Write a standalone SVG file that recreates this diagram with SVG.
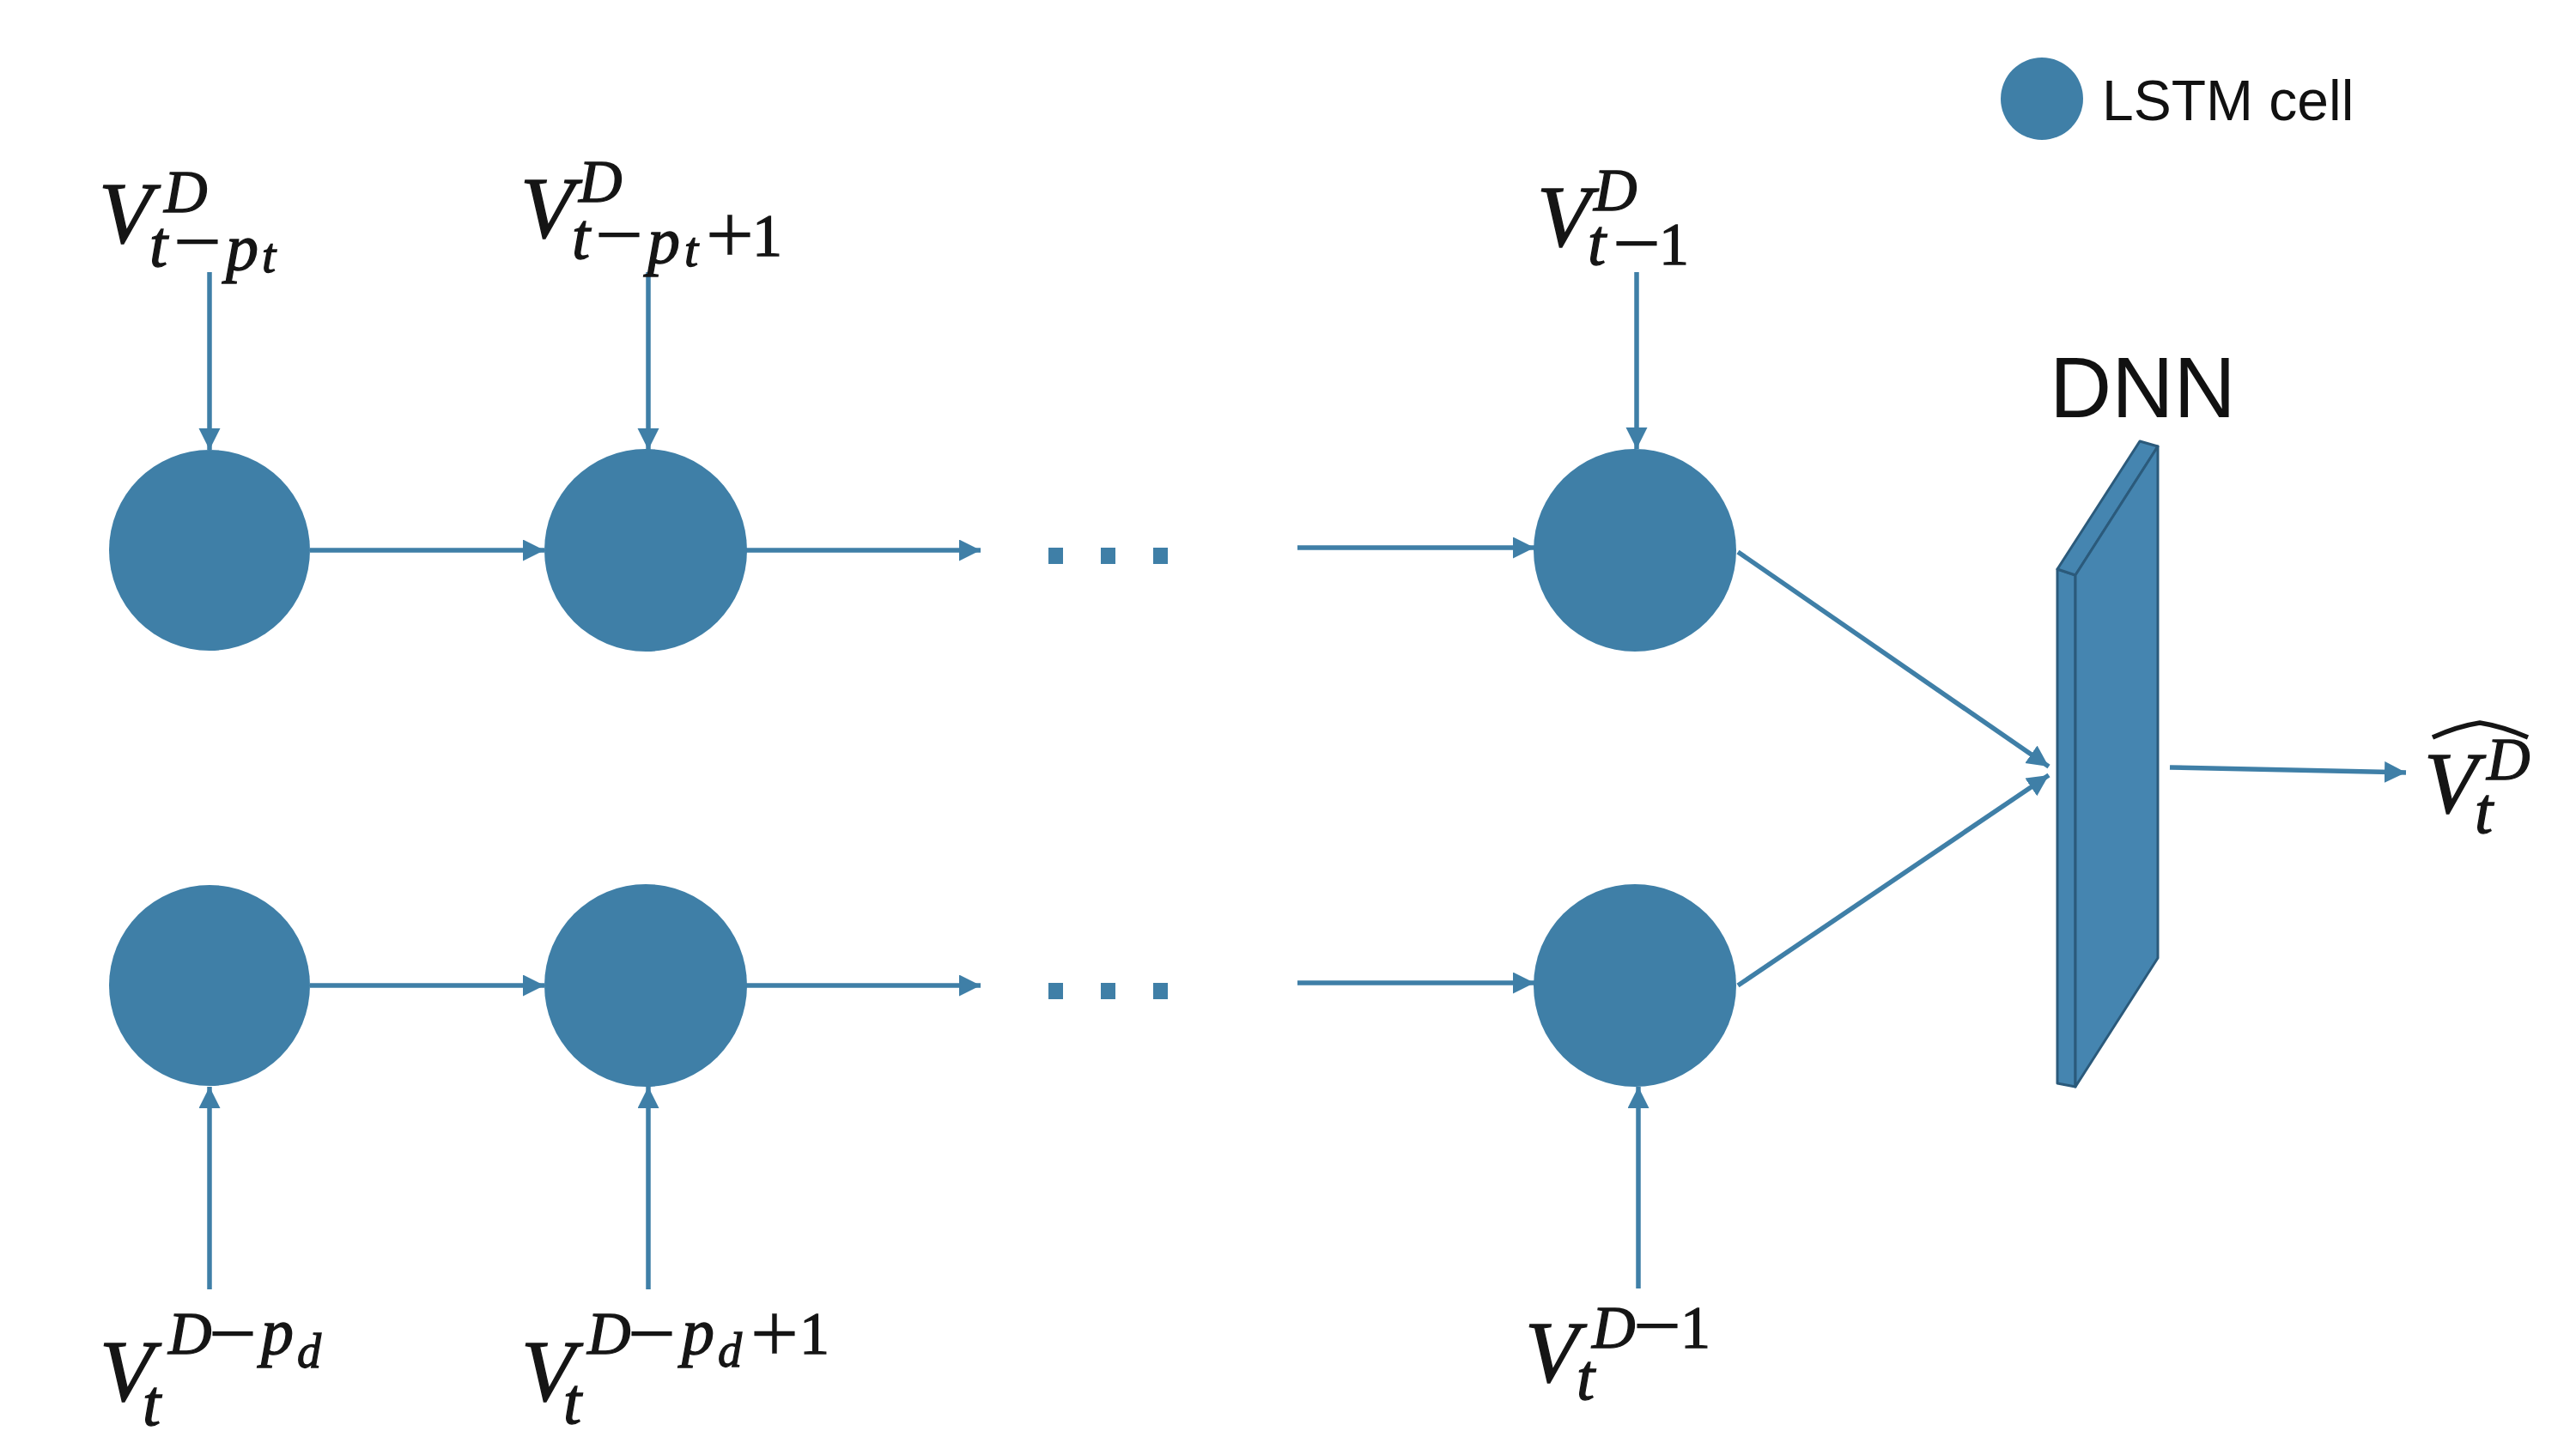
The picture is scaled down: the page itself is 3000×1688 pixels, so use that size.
<svg xmlns="http://www.w3.org/2000/svg" width="3000" height="1688" viewBox="0 0 3000 1688">
<style>
.cell{fill:#3f7fa7}
.con{stroke:#3f7fa7;stroke-width:5.5;fill:none}
.math{font-family:"Liberation Serif","Times New Roman",serif;fill:#151515;stroke:#151515;stroke-width:1.3}
.i{font-style:italic}
.op{text-anchor:middle;stroke-width:0.4}
.s{font-family:"Liberation Sans",Arial,sans-serif;fill:#111}
.dot{fill:#3f7fa7}
.slab{fill:#4585b0;stroke:#2b5a7b;stroke-width:3;stroke-linejoin:round}
</style>
<defs>
<marker id="ah" markerUnits="userSpaceOnUse" markerWidth="26" markerHeight="26" refX="25" refY="12.5" orient="auto">
<path d="M0,0 L25,12.5 L0,25 z" fill="#3f7fa7"/>
</marker>
</defs>
<rect width="3000" height="1688" fill="#ffffff"/>

<g id="legend">
<circle class="cell" cx="2378" cy="115" r="48"/>
<text class="s" x="2448" y="140" font-size="66">LSTM cell</text>
</g>

<g id="connectors">
<line class="con" x1="244" y1="317" x2="244" y2="524" marker-end="url(#ah)"/>
<line class="con" x1="755" y1="317" x2="755" y2="524" marker-end="url(#ah)"/>
<line class="con" x1="1906" y1="317" x2="1906" y2="523" marker-end="url(#ah)"/>
<line class="con" x1="244" y1="1502" x2="244" y2="1266" marker-end="url(#ah)"/>
<line class="con" x1="755" y1="1502" x2="755" y2="1266" marker-end="url(#ah)"/>
<line class="con" x1="1908" y1="1501" x2="1908" y2="1266" marker-end="url(#ah)"/>
<line class="con" x1="361" y1="641" x2="634" y2="641" marker-end="url(#ah)"/>
<line class="con" x1="869" y1="641" x2="1142" y2="641" marker-end="url(#ah)"/>
<line class="con" x1="1511" y1="638" x2="1787" y2="638" marker-end="url(#ah)"/>
<line class="con" x1="361" y1="1148" x2="634" y2="1148" marker-end="url(#ah)"/>
<line class="con" x1="869" y1="1148" x2="1142" y2="1148" marker-end="url(#ah)"/>
<line class="con" x1="1511" y1="1145" x2="1787" y2="1145" marker-end="url(#ah)"/>
<line class="con" x1="2024" y1="643" x2="2386" y2="893" marker-end="url(#ah)"/>
<line class="con" x1="2024" y1="1148" x2="2386" y2="903" marker-end="url(#ah)"/>
<line class="con" x1="2527" y1="894" x2="2802" y2="900" marker-end="url(#ah)"/>
</g>

<g id="dots-top">
<rect class="dot" x="1221" y="638" width="17" height="19"/>
<rect class="dot" x="1282" y="638" width="17" height="19"/>
<rect class="dot" x="1343" y="638" width="17" height="19"/>
</g>
<g id="dots-bottom">
<rect class="dot" x="1221" y="1145" width="17" height="19"/>
<rect class="dot" x="1282" y="1145" width="17" height="19"/>
<rect class="dot" x="1343" y="1145" width="17" height="19"/>
</g>

<g id="cell-top-1"><circle class="cell" cx="244" cy="641" r="117"/></g>
<g id="cell-top-2"><circle class="cell" cx="752" cy="641" r="118"/></g>
<g id="cell-top-3"><circle class="cell" cx="1904" cy="641" r="118"/></g>
<g id="cell-bot-1"><circle class="cell" cx="244" cy="1148" r="117"/></g>
<g id="cell-bot-2"><circle class="cell" cx="752" cy="1148" r="118"/></g>
<g id="cell-bot-3"><circle class="cell" cx="1904" cy="1148" r="118"/></g>

<g id="dnn">
<polygon class="slab" points="2396,663 2417,670 2417,1266 2396,1262"/>
<polygon class="slab" points="2396,663 2492,514 2513,520 2417,670"/>
<polygon class="slab" points="2417,670 2513,520 2513,1116 2417,1266"/>
<text class="s" x="2387" y="486" font-size="100">DNN</text>
</g>

<g id="label-top-1">
<text class="math"><tspan class="i" x="115" y="283" font-size="102">V</tspan><tspan class="i" x="191" y="247" font-size="70">D</tspan><tspan class="i" x="174" y="310" font-size="76">t</tspan><tspan class="op" x="230" y="315" font-size="100">−</tspan><tspan class="i" x="263" y="314" font-size="76">p</tspan><tspan class="i" x="305" y="317" font-size="58">t</tspan></text>
</g>

<g id="label-top-2">
<text class="math"><tspan class="i" x="606" y="277" font-size="102">V</tspan><tspan class="i" x="674" y="235" font-size="70">D</tspan><tspan class="i" x="666" y="301" font-size="76">t</tspan><tspan class="op" x="721" y="307" font-size="100">−</tspan><tspan class="i" x="754" y="306" font-size="76">p</tspan><tspan class="i" x="797" y="310" font-size="58">t</tspan><tspan class="op" x="850" y="307" font-size="100">+</tspan><tspan x="876" y="298" font-size="70">1</tspan></text>
</g>

<g id="label-top-3">
<text class="math"><tspan class="i" x="1790" y="287" font-size="102">V</tspan><tspan class="i" x="1856" y="245" font-size="70">D</tspan><tspan class="i" x="1849" y="308" font-size="76">t</tspan><tspan class="op" x="1906" y="317" font-size="100">−</tspan><tspan x="1932" y="308" font-size="70">1</tspan></text>
</g>

<g id="label-bot-1">
<text class="math"><tspan class="i" x="116" y="1632" font-size="102">V</tspan><tspan class="i" x="196" y="1577" font-size="70">D</tspan><tspan class="op" x="271" y="1587" font-size="100">−</tspan><tspan class="i" x="304" y="1577" font-size="76">p</tspan><tspan class="i" x="346" y="1593" font-size="56">d</tspan><tspan class="i" x="166" y="1660" font-size="76">t</tspan></text>
</g>

<g id="label-bot-2">
<text class="math"><tspan class="i" x="607" y="1632" font-size="102">V</tspan><tspan class="i" x="684" y="1577" font-size="70">D</tspan><tspan class="op" x="759" y="1587" font-size="100">−</tspan><tspan class="i" x="794" y="1577" font-size="76">p</tspan><tspan class="i" x="836" y="1592" font-size="56">d</tspan><tspan class="op" x="902" y="1587" font-size="100">+</tspan><tspan x="931" y="1577" font-size="70">1</tspan><tspan class="i" x="656" y="1658" font-size="76">t</tspan></text>
</g>

<g id="label-bot-3">
<text class="math"><tspan class="i" x="1776" y="1610" font-size="102">V</tspan><tspan class="i" x="1854" y="1570" font-size="70">D</tspan><tspan class="op" x="1930" y="1578" font-size="100">−</tspan><tspan x="1957" y="1570" font-size="70">1</tspan><tspan class="i" x="1836" y="1630" font-size="76">t</tspan></text>
</g>

<g id="label-out">
<text class="math"><tspan class="i" x="2823" y="947" font-size="102">V</tspan><tspan class="i" x="2896" y="908" font-size="70">D</tspan><tspan class="i" x="2882" y="970" font-size="76">t</tspan></text>
<path d="M2833,859 Q2862,846 2888,842 Q2914,846 2944,859" fill="none" stroke="#151515" stroke-width="5.5"/>
</g>
</svg>
